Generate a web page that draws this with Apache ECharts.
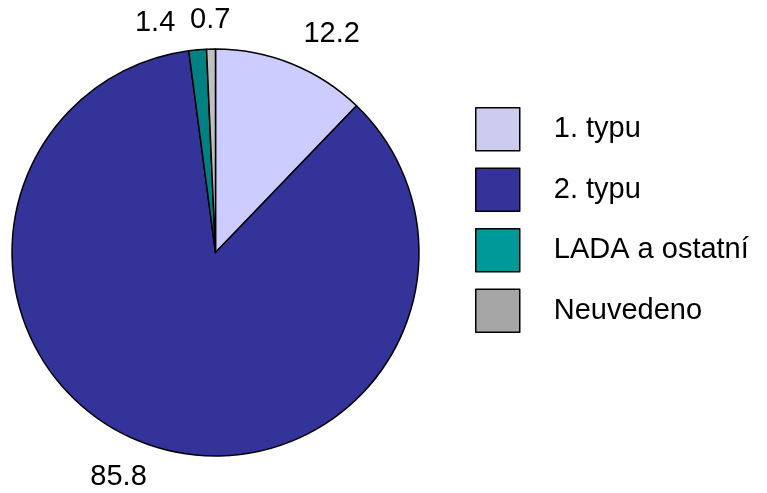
<!DOCTYPE html>
<html>
<head>
<meta charset="utf-8">
<script src="https://cdn.jsdelivr.net/npm/echarts@6/dist/echarts.min.js"></script>
<style>
    html, body { margin: 0; padding: 0; background: #fff; }
    #main { width: 767px; height: 493px; }
</style>
</head>
<body>
<div id="main"></div>
<script>
// data
const categories = ['1. typu', '2. typu', 'LADA a ostatní', 'Neuvedeno'];
const values = [12.2, 85.8, 1.4, 0.7];
const sliceColors = ['#CCCCFF', '#333399', '#008080', '#C0C0C0'];
const legendColors = ['#CCCCEE', '#333399', '#009999', '#A6A6A6'];
// label offsets per slice (length, length2)
const labelLens = [[32, 0], [33, -5], [27, 20], [29, -20]];

let myChart = echarts.init(document.getElementById('main'));

let option = {
    animation: false,
    backgroundColor: '#fff',
    legend: {
        orient: 'vertical',
        left: 470,
        top: 102,
        itemWidth: 44,
        itemHeight: 43,
        itemGap: 16,
        icon: 'rect',
        selectedMode: false,
        textStyle: {
            color: '#000',
            fontFamily: 'Liberation Sans, Arial, sans-serif',
            fontSize: 29,
            padding: [0, 0, 0, 29]
        },
        data: categories.map((name, i) => ({
            name,
            itemStyle: {
                color: legendColors[i],
                borderColor: '#000',
                borderWidth: 1.5
            }
        }))
    },
    series: [
        {
            type: 'pie',
            center: [215.5, 252.5],
            radius: 203.5,
            startAngle: 90,
            clockwise: true,
            avoidLabelOverlap: false,
            silent: true,
            itemStyle: {
                borderColor: '#000',
                borderWidth: 1.5
            },
            label: {
                show: true,
                position: 'outside',
                color: '#000',
                fontFamily: 'Liberation Sans, Arial, sans-serif',
                fontSize: 29,
                distanceToLabelLine: 0,
                formatter: '{c}'
            },
            labelLine: {
                show: false
            },
            emphasis: { disabled: true },
            data: categories.map((name, i) => ({
                name,
                value: values[i],
                itemStyle: { color: sliceColors[i] },
                labelLine: { show: false, length: labelLens[i][0], length2: labelLens[i][1] }
            }))
        }
    ]
};

myChart.setOption(option);
</script>
</body>
</html>
